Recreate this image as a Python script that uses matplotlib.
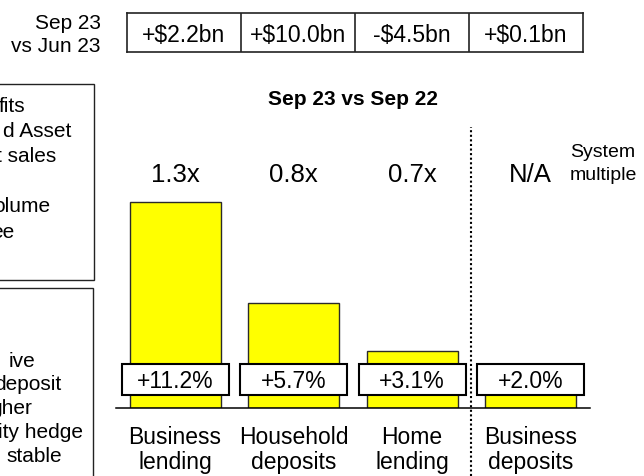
import numpy as np
import matplotlib
matplotlib.use("Agg")
import matplotlib.pyplot as plt
from matplotlib import transforms
from matplotlib.patches import Rectangle

plt.rcParams["font.family"] = ["Liberation Sans", "DejaVu Sans"]

# --- data -------------------------------------------------------------
categories = ["Business\nlending", "Household\ndeposits", "Home\nlending", "Business\ndeposits"]
yoy_growth = [11.2, 5.7, 3.1, 2.0]          # Sep 23 vs Sep 22, %
system_multiple = ["1.3x", "0.8x", "0.7x", "N/A"]
qoq_change_bn = [2.2, 10.0, -4.5, 0.1]      # Sep 23 vs Jun 23, $bn

# clipped commentary text on the left edge (only the visible part)
note_top = ["fits", "d Asset", "t sales", "olume", "ee"]
note_bottom = ["ive", "deposit", "gher", "ity hedge", "stable"]

# --- layout (pixels, origin top-left) ---------------------------------
W, H = 644, 476
STEP_PX = 118.5          # bar spacing
PX_PER_PCT = 18.4
BASE_PX = 408            # baseline
AX_LEFT_PX = 115.75


def fy(py):
    return 1 - py / H


def fx(px):
    return px / W


fig = plt.figure(figsize=(W / 100, H / 100), dpi=100)

ymax = 12
ax = fig.add_axes([fx(AX_LEFT_PX), fy(BASE_PX), 4 * STEP_PX / W, ymax * PX_PER_PCT / H])
ax.set_xlim(-0.5, 3.5)
ax.set_ylim(0, ymax)
for s in ["top", "left", "right"]:
    ax.spines[s].set_visible(False)
ax.spines["bottom"].set_linewidth(1.1)
ax.set_xticks([])
ax.set_yticks([])
ax.patch.set_alpha(0)

x = np.arange(len(categories))
ax.bar(x, yoy_growth, width=91 / STEP_PX, color="#FFFF00", edgecolor="#2a2a2a",
       linewidth=1, zorder=2)

# growth label boxes
bw = 107 / STEP_PX
b0 = (BASE_PX - 395) / PX_PER_PCT
bh = 31 / PX_PER_PCT
for xi, v in zip(x, yoy_growth):
    ax.add_patch(Rectangle((xi - bw / 2, b0), bw, bh, facecolor="white",
                           edgecolor="black", linewidth=1.5, zorder=3, clip_on=False))
    ax.text(xi, (BASE_PX - 388.5) / PX_PER_PCT, f"{v:+.1f}%", ha="center", va="baseline",
            fontsize=16.5, zorder=4)

# divider between lending/deposits group and business deposits
ax.axvline(2.5, ymin=(BASE_PX - H) / (ymax * PX_PER_PCT),
           ymax=(BASE_PX - 126.7) / (ymax * PX_PER_PCT),
           color="black", linewidth=1.5, linestyle=(0, (1, 1.2)), clip_on=False)

xt = transforms.blended_transform_factory(ax.transData, fig.transFigure)

# system multiples
for xi, m in zip(x, system_multiple):
    ax.text(xi, fy(181.7), m, transform=xt, ha="center", va="baseline", fontsize=18.5)
fig.text(fx(570), fy(157.3), "System", ha="left", va="baseline", fontsize=14)
fig.text(fx(570), fy(179.5), "multiple", ha="left", va="baseline", fontsize=14)

ax.text(1.5, fy(105), "Sep 23 vs Sep 22", transform=xt, ha="center", va="baseline",
        fontsize=15, fontweight="bold")

# category labels
for xi, c in zip(x, categories):
    l1, l2 = c.split("\n")
    ax.text(xi, fy(443.5), l1, transform=xt, ha="center", va="baseline", fontsize=16.5)
    ax.text(xi, fy(468.5), l2, transform=xt, ha="center", va="baseline", fontsize=16.5)

# quarter-on-quarter table
tab = fig.add_axes([fx(126.7), fy(52.3), (583 - 126.7) / W, (52.3 - 12.7) / H])
tab.set_xlim(0, 4)
tab.set_ylim(0, 1)
tab.set_xticks([])
tab.set_yticks([])
for s in tab.spines.values():
    s.set_linewidth(1.2)
    s.set_color("#222222")
for d in [1, 2, 3]:
    tab.axvline(d, color="#222222", linewidth=1.2)
for i, v in enumerate(qoq_change_bn):
    sign = "+" if v >= 0 else "-"
    tab.text(i + 0.5, (52.3 - 41.7) / 39.6, f"{sign}${abs(v):.1f}bn", ha="center",
             va="baseline", fontsize=16.5)

fig.text(fx(100.7), fy(29), "Sep 23", ha="right", va="baseline", fontsize=15)
fig.text(fx(100.7), fy(52), "vs Jun 23", ha="right", va="baseline", fontsize=15)

# clipped commentary boxes on the left
fig.add_artist(Rectangle((fx(-10), fy(280)), fx(104.3), (280 - 84) / H, transform=fig.transFigure,
                         facecolor="none", edgecolor="#222222", linewidth=1))
fig.add_artist(Rectangle((fx(-10), fy(490)), fx(103.3), (490 - 288.3) / H, transform=fig.transFigure,
                         facecolor="none", edgecolor="#222222", linewidth=1))

top_right = [25, 71.7, 56, 50.7, 14]
top_base = [111.7, 136.9, 162, 212.5, 237.5]
for t, r, b in zip(note_top, top_right, top_base):
    fig.text(fx(r), fy(b), t, ha="right", va="baseline", fontsize=15)

bot_right = [35.7, 61, 32.3, 83.3, 61.7]
bot_base = [366.7, 390.5, 414.2, 438, 461.7]
for t, r, b in zip(note_bottom, bot_right, bot_base):
    fig.text(fx(r), fy(b), t, ha="right", va="baseline", fontsize=15)

fig.savefig("out.png", dpi=100)
